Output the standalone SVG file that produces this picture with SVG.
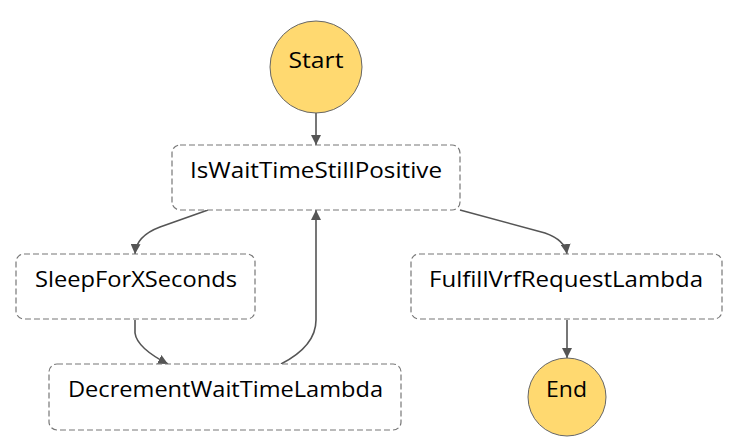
<svg xmlns="http://www.w3.org/2000/svg" width="738" height="446" viewBox="0 0 738 446">
<defs>
<marker id="arr" viewBox="0 0 10 10" refX="10" refY="5" markerWidth="10" markerHeight="10" markerUnits="userSpaceOnUse" orient="auto">
<path d="M0,0 L10,5 L0,10 z" fill="#555"/>
</marker>
<style>
.box{fill:#fff;stroke:#777;stroke-width:1.2;stroke-dasharray:6,3}
.term{fill:#ffd970;stroke:#666;stroke-width:1}
.lbl{font-family:"Open Sans","Noto Sans","DejaVu Sans",sans-serif;font-size:22px;fill:#000;text-anchor:middle}
.edge{fill:none;stroke:#555;stroke-width:1.6;marker-end:url(#arr)}
</style>
</defs>
<rect width="738" height="446" fill="#fff"/>
<g id="connectors">
<path class="edge" d="M316,113 L316,145"/>
<path class="edge" d="M208,210 L160,227 Q136,236 135,254"/>
<path class="edge" d="M135,320 L135,333 Q137,348 168,364"/>
<path class="edge" d="M281,364 Q316,346 316,320 L316,210"/>
<path class="edge" d="M460,210 L545,233 Q565,240 567,254"/>
<path class="edge" d="M567,320 L567,358"/>
</g>
<g id="start">
<circle class="term" cx="316" cy="67" r="46"/>
<text class="lbl" x="316" y="68" textLength="55" lengthAdjust="spacingAndGlyphs">Start</text>
</g>
<g id="isWaitTimeStillPositive">
<rect class="box" x="172" y="145" width="288" height="65" rx="8"/>
<text class="lbl" x="316" y="178" textLength="252" lengthAdjust="spacingAndGlyphs">IsWaitTimeStillPositive</text>
</g>
<g id="sleepForXSeconds">
<rect class="box" x="16" y="254" width="239" height="65" rx="8"/>
<text class="lbl" x="136" y="287" textLength="202" lengthAdjust="spacingAndGlyphs">SleepForXSeconds</text>
</g>
<g id="decrementWaitTimeLambda">
<rect class="box" x="49" y="364" width="352" height="66" rx="8"/>
<text class="lbl" x="225.5" y="397" textLength="315" lengthAdjust="spacingAndGlyphs">DecrementWaitTimeLambda</text>
</g>
<g id="fulfillVrfRequestLambda">
<rect class="box" x="411" y="254" width="311" height="65" rx="8"/>
<text class="lbl" x="566" y="287" textLength="274" lengthAdjust="spacingAndGlyphs">FulfillVrfRequestLambda</text>
</g>
<g id="end">
<circle class="term" cx="567" cy="397" r="39"/>
<text class="lbl" x="566.5" y="397" textLength="41" lengthAdjust="spacingAndGlyphs">End</text>
</g>
</svg>
